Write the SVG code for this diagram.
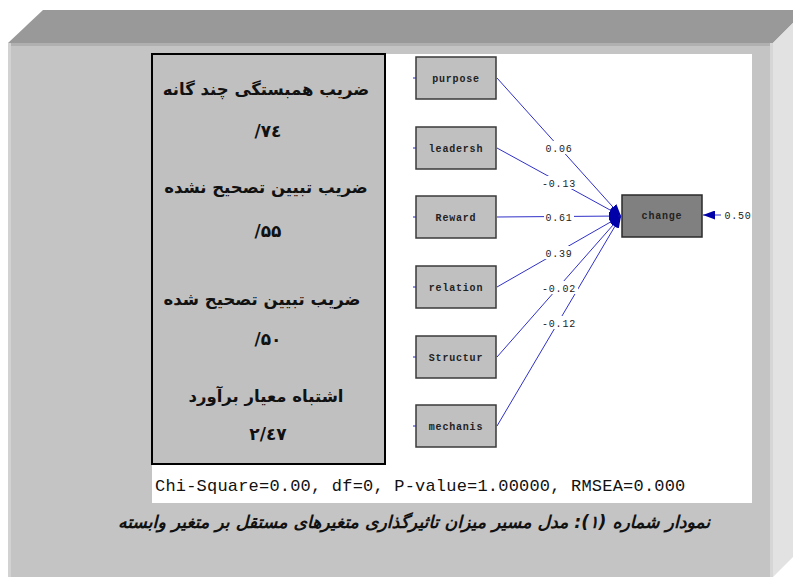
<svg xmlns="http://www.w3.org/2000/svg" width="793" height="577" viewBox="0 0 793 577">
<style>
.fa{font-family:"DejaVu Sans",sans-serif;font-weight:bold;font-size:16.5px;fill:#111;text-anchor:middle}
.num{font-family:"DejaVu Sans",sans-serif;font-weight:bold;font-size:17px;fill:#111;text-anchor:middle}
.node rect{fill:#c0c0c0;stroke:#3a3a3a;stroke-width:1.5}
.node text{font-family:"Liberation Mono",monospace;font-weight:bold;font-size:10px;letter-spacing:0.8px;fill:#222;text-anchor:middle}
.edge{stroke:#3030c8;stroke-width:1;fill:none}
.lbl{font-family:"Liberation Mono",monospace;font-size:10px;letter-spacing:0.8px;fill:#222;text-anchor:middle}
.lblbg{fill:#ffffff}
.stub{stroke:#2a2ac8;stroke-width:1}
</style>
<defs>
<marker id="ah" viewBox="0 0 12 9" refX="12" refY="4.5" markerWidth="12" markerHeight="9" markerUnits="userSpaceOnUse" orient="auto">
<path d="M0,0 L12,4.5 L0,9 z" fill="#0000a8"/>
</marker>
</defs>
<!-- 3D frame -->
<rect x="0" y="0" width="793" height="577" fill="#ffffff"/>
<polygon points="8,43 43,10 793,10 793,23 773,43" fill="#999999"/>
<rect x="8" y="43" width="765" height="534" fill="#c4c4c4"/>
<rect x="8" y="43" width="765" height="3" fill="#b0b0b0"/>
<rect x="8" y="43" width="3" height="534" fill="#d2d2d2"/>
<polygon points="773,43 793,23 793,557 773,577" fill="#e2e2e2"/>
<rect x="770" y="43" width="3" height="534" fill="#d6d6d6"/>
<!-- white diagram area -->
<rect x="152" y="54" width="600" height="449" fill="#ffffff"/>
<!-- statistics box -->
<g id="stats">
<rect x="152" y="54" width="233" height="410" fill="#c0c0c0" stroke="#000" stroke-width="2"/>
<text class="fa" x="266" y="95" direction="rtl">ضریب همبستگی چند گانه</text>
<text class="num" x="268" y="137" direction="ltr" unicode-bidi="bidi-override">/۷٤</text>
<text class="fa" x="266" y="193" direction="rtl">ضریب تبیین تصحیح نشده</text>
<text class="num" x="268" y="237" direction="ltr" unicode-bidi="bidi-override">/۵۵</text>
<text class="fa" x="262" y="305" direction="rtl">ضریب تبیین  تصحیح شده</text>
<text class="num" x="268" y="345" direction="ltr" unicode-bidi="bidi-override">/۵۰</text>
<text class="fa" x="266" y="402" direction="rtl">اشتباه معیار برآورد</text>
<text class="num" x="268" y="440" direction="ltr" unicode-bidi="bidi-override">۲/٤۷</text>
</g>
<!-- connectors -->
<g id="connectors">
<line class="edge" x1="497" y1="78" x2="621" y2="216" marker-end="url(#ah)"/>
<line class="edge" x1="497" y1="148" x2="621" y2="216" marker-end="url(#ah)"/>
<line class="edge" x1="497" y1="217" x2="621" y2="216" marker-end="url(#ah)"/>
<line class="edge" x1="497" y1="287" x2="621" y2="216" marker-end="url(#ah)"/>
<line class="edge" x1="497" y1="357" x2="621" y2="216" marker-end="url(#ah)"/>
<line class="edge" x1="497" y1="426" x2="621" y2="216" marker-end="url(#ah)"/>
<line class="edge" x1="721" y1="215" x2="703" y2="215" marker-end="url(#ah)" stroke-width="1.5"/>
<line class="stub" x1="413" y1="78" x2="416" y2="78"/>
<line class="stub" x1="413" y1="148" x2="416" y2="148"/>
<line class="stub" x1="413" y1="217" x2="416" y2="217"/>
<line class="stub" x1="413" y1="287" x2="416" y2="287"/>
<line class="stub" x1="413" y1="357" x2="416" y2="357"/>
<line class="stub" x1="413" y1="426" x2="416" y2="426"/>
<rect class="lblbg" x="544" y="141" width="30" height="13"/>
<text class="lbl" x="559" y="152">0.06</text>
<rect class="lblbg" x="540" y="176" width="38" height="13"/>
<text class="lbl" x="559" y="187">-0.13</text>
<rect class="lblbg" x="544" y="211" width="30" height="12"/>
<text class="lbl" x="559" y="221">0.61</text>
<rect class="lblbg" x="544" y="246" width="30" height="13"/>
<text class="lbl" x="559" y="257">0.39</text>
<rect class="lblbg" x="540" y="281" width="38" height="13"/>
<text class="lbl" x="559" y="292">-0.02</text>
<rect class="lblbg" x="540" y="316" width="38" height="13"/>
<text class="lbl" x="559" y="327">-0.12</text>
<text class="lbl" x="738" y="219">0.50</text>
</g>
<!-- nodes -->
<g id="purpose" class="node"><rect x="416" y="57" width="80" height="42"/><text x="456" y="82">purpose</text></g>
<g id="leadersh" class="node"><rect x="416" y="127" width="80" height="42"/><text x="456" y="152">leadersh</text></g>
<g id="Reward" class="node"><rect x="416" y="196" width="80" height="42"/><text x="456" y="221">Reward</text></g>
<g id="relation" class="node"><rect x="416" y="266" width="80" height="42"/><text x="456" y="291">relation</text></g>
<g id="Structur" class="node"><rect x="416" y="336" width="80" height="42"/><text x="456" y="361">Structur</text></g>
<g id="mechanis" class="node"><rect x="416" y="405" width="80" height="42"/><text x="456" y="430">mechanis</text></g>
<g id="change" class="node"><rect x="622" y="195" width="80" height="42" style="fill:#808080;stroke:#2a2a2a"/><text x="662" y="219">change</text></g>
<!-- footer texts -->
<text x="155" y="491" font-family="Liberation Mono, monospace" font-size="17" letter-spacing="0.2" fill="#111">Chi-Square=0.00, df=0, P-value=1.00000, RMSEA=0.000</text>
<text x="414" y="528" direction="rtl" font-family="DejaVu Sans, sans-serif" font-weight="bold" font-style="italic" font-size="17.3" fill="#111" text-anchor="middle">نمودار شماره (۱): مدل مسیر میزان تاثیرگذاری متغیرهای مستقل بر متغیر وابسته</text>
</svg>
